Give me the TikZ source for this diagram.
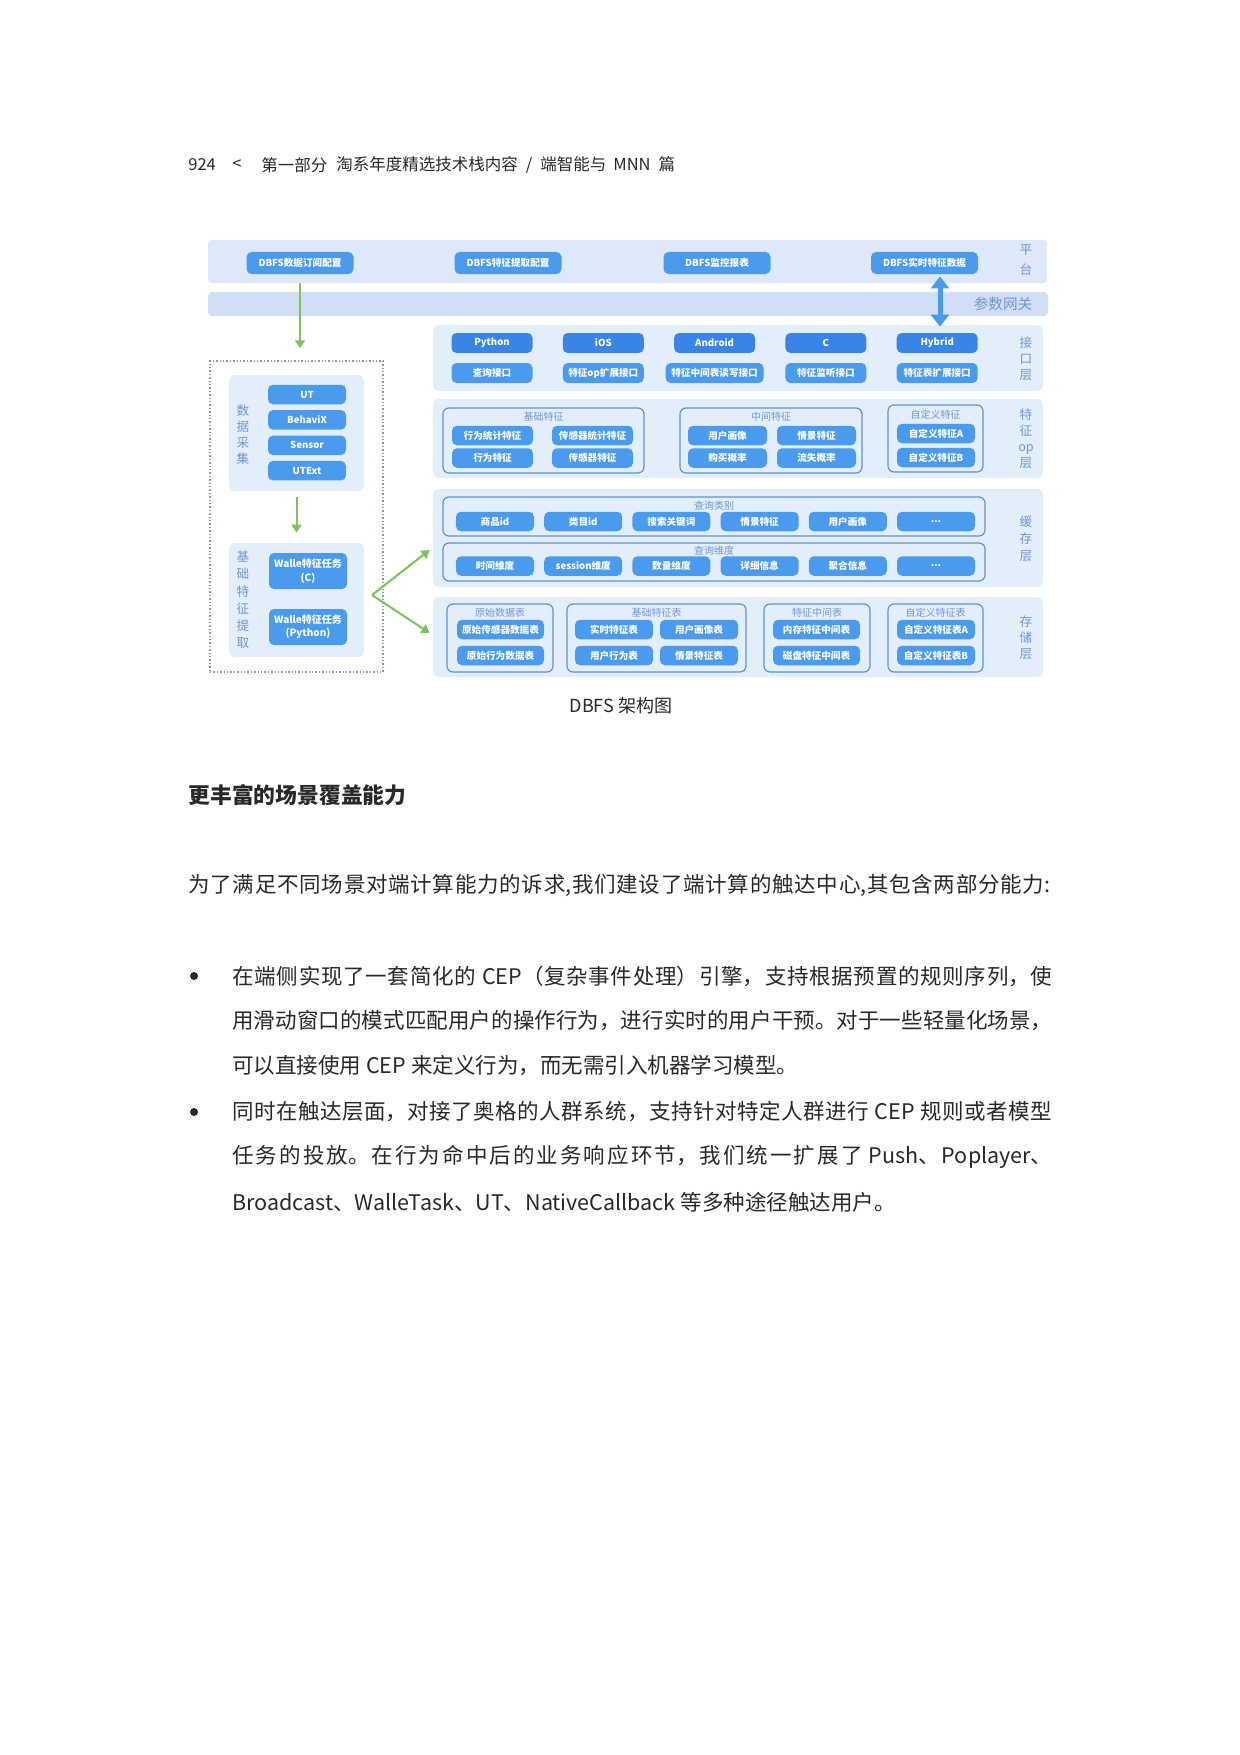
\documentclass[tikz,border=0pt]{standalone}
\usepackage{fontspec}
\setmainfont{Noto Sans CJK SC}
\usetikzlibrary{arrows.meta,positioning}
\XeTeXlinebreaklocale "zh"
\XeTeXlinebreakskip=0pt plus 1pt minus 0.1pt
\definecolor{PageInk}{RGB}{40,40,40}
\definecolor{BandBlue}{RGB}{221,233,249}
\definecolor{PanelBlue}{RGB}{227,238,251}
\definecolor{GateLilac}{RGB}{210,221,246}
\definecolor{BtnBlue}{RGB}{74,154,238}
\definecolor{BtnDeep}{RGB}{56,133,230}
\definecolor{GroupLine}{RGB}{94,147,210}
\definecolor{GroupText}{RGB}{115,150,205}
\definecolor{LayerText}{RGB}{112,150,210}
\definecolor{LeafGreen}{RGB}{125,194,91}
\definecolor{DotGray}{RGB}{135,151,178}
\newcommand\moredots{...}
\newcommand\fullline[2]{\parbox{#1}{\spaceskip=0.28em\relax\parfillskip=0pt\relax #2}}
\tikzset{
  band/.style={fill=BandBlue,rounded corners=2pt,inner sep=0pt},
  panel/.style={fill=PanelBlue,rounded corners=3pt,inner sep=0pt},
  btn/.style={fill=BtnBlue,text=white,rounded corners=2.5pt,inner sep=0pt,
    minimum width=39pt,minimum height=9.75pt,align=center,
    font=\fontsize{4.8}{5.6}\selectfont\bfseries},
  deepbtn/.style={btn,fill=BtnDeep},
  group/.style={draw=GroupLine,line width=0.6pt,rounded corners=3pt,inner sep=0pt},
  grouptitle/.style={text=GroupText,font=\fontsize{5}{6}\selectfont,inner sep=0pt},
  layerlabel/.style={text=LayerText,font=\fontsize{6.3}{8}\selectfont,
    align=center,inner sep=0pt},
  garrow/.style={-{Triangle[length=4pt,width=5pt]},LeafGreen,line width=1pt},
  pagetext/.style={anchor=west,inner sep=0pt,text=PageInk},
  body/.style={pagetext,font=\fontsize{10.75}{13}\selectfont}
}

\begin{document}
\begin{tikzpicture}[x=0.5pt,y=-0.5pt]
  \useasboundingbox (0,0) rectangle (1240,1755);

  % running head
  \node[pagetext,font=\fontsize{8.25}{10}\selectfont] (pgnum) at (188,165) {924};
  \node[pagetext,font=\fontsize{8.25}{10}\selectfont] (pgsep) at (232,165) {<};
  \node[pagetext,font=\fontsize{8.25}{10}\selectfont] (part) at (261,165) {第一部分};
  \node[pagetext,font=\fontsize{8.25}{10}\selectfont] (chap) at (336,165)
    {淘系年度精选技术栈内容\hspace{4pt}/\hspace{4pt}端智能与\hspace{3.5pt}MNN\hspace{4pt}篇};

  % platform and gateway
  \node[band,minimum width=419.5pt,minimum height=21.5pt] (plat) at (627.5,261.5) {};
  \foreach \nm/\cx/\txt in {sub/300/DBFS数据订阅配置,ext/508/DBFS特征提取配置,
      mon/717/DBFS监控报表,rt/924.5/DBFS实时特征数据}
    \node[btn,minimum width=53.5pt,minimum height=11pt] (\nm) at (\cx,263) {\txt};
  \node[layerlabel,font=\fontsize{6.3}{10}\selectfont] (platlbl) at (1026,260) {平\\台};

  \node[band,fill=GateLilac,minimum width=420pt,minimum height=12pt] (gw) at (628,304) {};
  \node[text=LayerText,font=\fontsize{7.3}{8}\selectfont,inner sep=0pt] (gwlbl) at (1003,304) {参数网关};

  % device side
  \node[draw=DotGray,dash pattern=on 0.7pt off 1pt,line width=0.7pt,inner sep=0pt,
        minimum width=86.5pt,minimum height=155.5pt] (devbox) at (296.5,516.5) {};

  \node[panel,minimum width=67.5pt,minimum height=58pt] (collect) at (296.5,433) {};
  \node[layerlabel] (collectlbl) at (243,435) {数\\据\\采\\集};
  \foreach \nm/\txt [count=\i from 0] in {ut/UT,bx/BehaviX,sensor/Sensor,utext/UTExt}
    \node[btn] (\nm) at (307,{394.5+25.4*\i}) {\txt};

  \node[panel,minimum width=67.5pt,minimum height=57pt] (extract) at (296.5,600) {};
  \node[layerlabel,font=\fontsize{6.3}{8.6}\selectfont] (extractlbl) at (243,600)
    {基\\础\\特\\征\\提\\取};
  \node[btn,minimum height=18pt,font=\fontsize{5}{6.8}\selectfont\bfseries] (walc)
    at (308,571) {Walle特征任务\\(C)};
  \node[btn,minimum height=18pt,font=\fontsize{5}{6.8}\selectfont\bfseries] (walp)
    at (308,627) {Walle特征任务\\(Python)};

  % interface layer
  \node[panel,minimum width=305pt,minimum height=33pt] (api) at (738,358) {};
  \foreach \nm/\txt [count=\i from 0] in {py/Python,ios/iOS,android/Android,clang/C,hybrid/Hybrid}
    \node[deepbtn,minimum width=40.5pt,minimum height=10pt] (\nm) at ({492+111.3*\i},343) {\txt};
  \foreach \nm/\txt/\w [count=\i from 0] in {query/查询接口/40.5,opext/特征op扩展接口/40.5,
      midrw/特征中间表读写接口/49,listen/特征监听接口/40.5,tabext/特征表扩展接口/40.5}
    \node[btn,minimum width=\w pt,minimum height=10pt] (\nm) at ({492+111.3*\i},373) {\txt};
  \node[layerlabel] (apilbl) at (1026,359) {接\\口\\层};

  % feature op layer
  \node[panel,minimum width=305pt,minimum height=39.5pt] (feat) at (738,438.5) {};
  \node[group,minimum width=100.5pt,minimum height=32.5pt] (basefeat) at (543.5,440.5) {};
  \node[grouptitle] (basefeattl) at (543.5,417) {基础特征};
  \node[btn,minimum width=40.5pt] (actstat) at (492.5,435.5) {行为统计特征};
  \node[btn,minimum width=40.5pt] (senstat) at (592.5,435.5) {传感器统计特征};
  \node[btn,minimum width=40.5pt] (act) at (492.5,458) {行为特征};
  \node[btn,minimum width=40.5pt] (sen) at (592.5,458) {传感器特征};

  \node[group,minimum width=91pt,minimum height=32.5pt] (midfeat) at (771,440.5) {};
  \node[grouptitle] (midfeattl) at (771,417) {中间特征};
  \node[btn,minimum width=39.5pt] (portrait) at (727.5,435.5) {用户画像};
  \node[btn,minimum width=39.5pt] (scene) at (816.5,435.5) {情景特征};
  \node[btn,minimum width=39.5pt] (buy) at (727.5,458) {购买概率};
  \node[btn,minimum width=39.5pt] (churn) at (816.5,458) {流失概率};

  \node[group,minimum width=47.5pt,minimum height=33.5pt] (custfeat) at (935.5,438.5) {};
  \node[grouptitle] (custfeattl) at (935.5,415) {自定义特征};
  \node[btn] (custa) at (936,433.5) {自定义特征A};
  \node[btn] (custb) at (936,457.5) {自定义特征B};
  \node[layerlabel] (featlbl) at (1026,439) {特\\征\\op\\层};

  % cache layer
  \node[panel,minimum width=305pt,minimum height=49pt] (cache) at (738,538) {};
  \node[group,minimum width=271pt,minimum height=19.5pt] (qtype) at (714,516.5) {};
  \node[grouptitle] (qtypetl) at (714,506) {查询类别};
  \foreach \nm/\txt [count=\i from 0] in {item/商品id,cat/类目id,kw/搜索关键词,
      qscene/情景特征,qportrait/用户画像,qmore/\moredots}
    \node[btn] (\nm) at ({495+88.2*\i},521.5) {\txt};
  \node[group,minimum width=271pt,minimum height=19pt] (qdim) at (714,562) {};
  \node[grouptitle] (qdimtl) at (714,551) {查询维度};
  \foreach \nm/\txt [count=\i from 0] in {time/时间维度,sess/session维度,amount/数量维度,
      detail/详细信息,agg/聚合信息,dmore/\moredots}
    \node[btn] (\nm) at ({495+88.2*\i},566) {\txt};
  \node[layerlabel,font=\fontsize{6.3}{8.5}\selectfont] (cachelbl) at (1026,539) {缓\\存\\层};

  % storage layer
  \node[panel,minimum width=305pt,minimum height=40pt] (store) at (738,637) {};
  \node[group,minimum width=53pt,minimum height=34pt] (rawtab) at (500,638) {};
  \node[grouptitle] (rawtabtl) at (500,613) {原始数据表};
  \node[btn,minimum width=43.5pt] (rawsen) at (500.5,629.5) {原始传感器数据表};
  \node[btn,minimum width=43.5pt] (rawact) at (500.5,655.5) {原始行为数据表};

  \node[group,minimum width=89.5pt,minimum height=34pt] (basetab) at (656.5,638) {};
  \node[grouptitle] (basetabtl) at (656.5,613) {基础特征表};
  \node[btn] (rttab) at (614,629.5) {实时特征表};
  \node[btn] (portab) at (699,629.5) {用户画像表};
  \node[btn] (acttab) at (614,655.5) {用户行为表};
  \node[btn] (scenetab) at (699,655.5) {情景特征表};

  \node[group,minimum width=53pt,minimum height=34pt] (midtab) at (817,638) {};
  \node[grouptitle] (midtabtl) at (817,613) {特征中间表};
  \node[btn,minimum width=43.5pt] (memtab) at (816.5,629.5) {内存特征中间表};
  \node[btn,minimum width=43.5pt] (disktab) at (816.5,655.5) {磁盘特征中间表};

  \node[group,minimum width=47.5pt,minimum height=34pt] (custtab) at (935.5,638) {};
  \node[grouptitle] (custtabtl) at (935.5,613) {自定义特征表};
  \node[btn] (custtaba) at (936,629.5) {自定义特征表A};
  \node[btn] (custtabb) at (936,655.5) {自定义特征表B};
  \node[layerlabel] (storelbl) at (1026,638) {存\\储\\层};

  % connectors
  \coordinate (gwx) at (940,304);
  \draw[{Triangle[length=6pt,width=9pt]}-{Triangle[length=6pt,width=9pt]},BtnBlue,
        line width=2.5pt] ([yshift=-1pt]rt.south -| gwx) -- ([yshift=-1pt]api.north -| gwx);
  \draw[garrow] (plat.south -| sub) -- ([yshift=6pt]devbox.north -| sub);
  \draw[garrow,shorten <=3pt,shorten >=5pt] (collect) -- (extract);
  \coordinate (fork) at (372,595);
  \draw[garrow] (fork) -- ([xshift=-1.5pt,yshift=-6pt]cache.west);
  \draw[garrow] (fork) -- ([xshift=-1.5pt,yshift=2pt]store.west);

  % text below the figure
  \node[text=PageInk,font=\fontsize{9}{11}\selectfont,inner sep=0pt] (caption) at (621,706) {DBFS 架构图};
  \node[pagetext,font=\fontsize{10.9}{13}\selectfont\bfseries] (heading) at (188,795) {更丰富的场景覆盖能力};
  \node[body] (intro) at (188,885)
    {\fullline{431pt}{为了满足不同场景对端计算能力的诉求,我们建设了端计算的触达中心,其包含两部分能力:}};

  \foreach \nm/\yy in {dota/976,dotb/1112}
    \node[circle,fill=PageInk,minimum size=4pt,inner sep=0pt] (\nm) at (194,\yy) {};
  \node[body] (la1) at (232,976)
    {\fullline{410pt}{在端侧实现了一套简化的 CEP（复杂事件处理）引擎，支持根据预置的规则序列，使}};
  \node[body] (la2) at (232,1021)
    {\fullline{410pt}{用滑动窗口的模式匹配用户的操作行为，进行实时的用户干预。对于一些轻量化场景，}};
  \node[body] (la3) at (232,1066) {可以直接使用 CEP 来定义行为，而无需引入机器学习模型。};
  \node[body] (lb1) at (232,1112)
    {\fullline{410pt}{同时在触达层面，对接了奥格的人群系统，支持针对特定人群进行 CEP 规则或者模型}};
  \node[body] (lb2) at (232,1157)
    {\fullline{410pt}{任务的投放。在行为命中后的业务响应环节，我们统一扩展了 Push、Poplayer、}};
  \node[body] (lb3) at (232,1202) {Broadcast、WalleTask、UT、NativeCallback 等多种途径触达用户。};
\end{tikzpicture}
\end{document}
